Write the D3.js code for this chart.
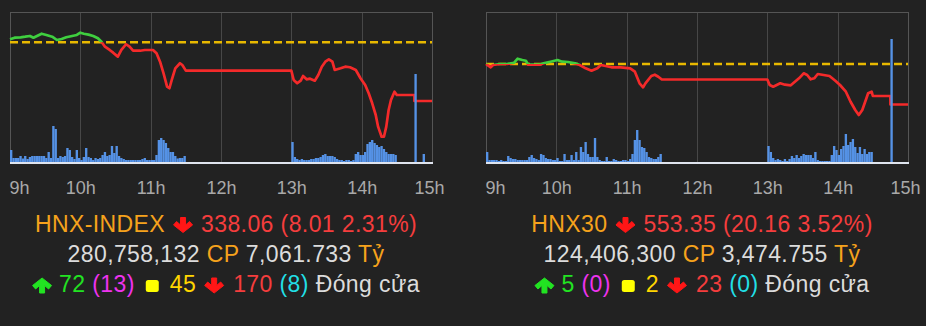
<!DOCTYPE html>
<meta charset="utf-8">
<style>
body { margin: 0; background: #222; }
svg { display: block; font-family: "Liberation Sans", Arial, Helvetica, sans-serif; }
.axis path { display: none; }
.axis line { stroke: #474747; shape-rendering: crispEdges; }
.axis text { fill: #a9a9a9; font-size: 18px; }
.info { font-size: 23px; letter-spacing: 0.4px; }
</style>
<body>
<svg width="926" height="326"></svg>
<script src="https://cdn.jsdelivr.net/npm/d3@7"></script>
<script>

var parseTime = d3.timeParse("%H:%M");
var hourTicks = ["09:00", "10:00", "11:00", "12:00", "13:00", "14:00", "15:00"];

// ---- HNX-INDEX ----
var hnxRef = 346.07;
var hnxPrice = [
  ["09:00",346.48],["09:04",346.70],["09:09",346.75],["09:13",346.83],["09:17",346.93],["09:20",346.70],
  ["09:23",346.93],["09:27",347.24],["09:31",347.07],["09:36",346.83],["09:40",346.38],["09:44",346.52],
  ["09:48",346.75],["09:53",346.93],["09:57",347.07],["10:00",347.38],["10:03",347.24],["10:07",347.11],
  ["10:11",346.93],["10:15",346.62],["10:18",346.15],["10:21",345.47],["10:25",345.02],["10:28",344.65],
  ["10:32",344.11],["10:35",345.02],["10:39",345.80],["10:42",345.47],["10:45",344.92],["10:51",344.92],
  ["10:55",345.02],["11:02",345.02],["11:05",344.57],["11:08",343.42],["11:11",341.84],["11:14",340.01],
  ["11:16",339.80],["11:18",340.93],["11:21",342.52],["11:25",343.21],["11:27",342.97],["11:30",342.20],
  ["13:00",342.20],["13:02",340.93],["13:05",340.48],["13:08",340.83],["13:10",341.47],["13:13",341.02],
  ["13:16",341.11],["13:20",340.83],["13:23",341.61],["13:26",342.74],["13:29",343.42],["13:32",343.75],
  ["13:35",343.42],["13:37",342.29],["13:42",342.52],["13:46",342.74],["13:50",342.66],["13:55",342.29],
  ["13:59",341.16],["14:03",340.25],["14:06",339.11],["14:09",337.75],["14:12",336.15],["14:14",334.56],
  ["14:17",333.19],["14:19",333.19],["14:21",334.56],["14:23",336.84],["14:25",338.20],["14:28",339.33],
  ["14:30",338.88],["14:45",338.88],["14:45",338.06],["15:00",338.06]
];
// volume, 2-minute bins (x10,000 shares)
var hnxVolAM = [12,4,4,4,6,3.5,6,3,5,6, 6,6,6,6,6,4,10,4,36,33, 4,6,5,6,14,12,5,3,12,4,
  2,5,14,5,4,2,4,3,4,7, 10,6,7,16,9,16,6,4,3,2, 2,2,2,2,2,2,3,4,2,2, 2,2,7,22,24,22,19,14,10,10, 6,3.5,4,4,6];
var hnxVolPM = [20,5,3,2,3,2,2,2,3,3, 4,4,5,7,8,6,6,6,5,3, 2,2,1,2,2,1,2,8,10,7,
  7,10,18,20,22,19,17,15,16,13, 10,8,8,8,7];
var hnxVolATC = [["14:45",88],["14:52",8]];

// ---- HNX30 ----
var hnx30Ref = 573.51;
var hnx30Price = [
  ["09:00",573.51],["09:04",571.87],["09:06",573.01],["09:12",573.51],["09:18",573.51],["09:24",574.16],
  ["09:27",576.15],["09:31",575.50],["09:34",575.15],["09:36",573.16],["09:41",573.16],["09:46",573.16],
  ["09:49",573.86],["09:55",574.66],["10:01",575.50],["10:05",574.66],["10:10",574.51],["10:16",573.86],
  ["10:20",573.01],["10:25",571.37],["10:30",570.17],["10:35",571.37],["10:38",573.01],["10:42",572.51],
  ["10:47",571.87],["10:55",571.87],["11:03",571.37],["11:07",569.68],["11:11",563.90],["11:14",561.91],
  ["11:16",563.90],["11:21",567.54],["11:24",568.18],["11:27",567.19],["11:30",565.79],["13:00",565.79],
  ["13:02",563.06],["13:05",562.21],["13:11",563.90],["13:15",563.21],["13:20",562.91],["13:22",563.90],
  ["13:27",566.39],["13:31",568.88],["13:34",568.03],["13:37",565.89],["13:40",566.39],["13:43",568.53],
  ["13:48",568.03],["13:53",567.54],["13:58",565.20],["14:02",563.06],["14:07",559.72],["14:11",554.74],
  ["14:15",550.61],["14:18",548.12],["14:21",550.61],["14:24",555.59],["14:26",558.92],["14:29",559.72],
  ["14:30",557.58],["14:45",557.58],["14:45",553.35],["15:00",553.35]
];
var hnx30VolAM = [10,2,2,2,2,1,2,1,1,6, 4,3,3,2,2,2,2,2,5,7, 4,3,2,8,7,4,3,3,2,2,
  4,1,1,8,2,2,7,2,10,2, 15,10,20,8,5,5,24,5,2,1, 1,5,1,1,3,2,1,1,2,2, 1,3,8,22,32,22,15,14,10,5, 4,3,3,5,8];
var hnx30VolPM = [16,10,4,2,3,2,1,3,1,3, 6,4,7,4,6,8,7,7,7,4, 10,2,1,1,1,1,1,7,16,12,
  7,13,16,28,17,20,23,15,9,15, 8,13,8,10,10];
var hnx30VolATC = [["14:45",123]];

var svg = d3.select("svg");
var W = 422, H = 150;

function bins(arr, start) {
  var t0 = parseTime(start);
  return arr.map(function(v, i) { return {t: d3.timeMinute.offset(t0, i * 2), v: v}; });
}

function drawChart(id, left, o) {
  var g = svg.append("g").attr("transform", "translate(" + left + ",12)");
  var x = d3.scaleTime().domain([parseTime("09:00"), parseTime("15:00")]).range([0, W]);
  var y = d3.scaleLinear().domain(o.yDomain).range([H, 0]);
  var v = d3.scaleLinear().domain([0, 150]).range([0, 150]);

  // grid + hour labels
  var ax = g.append("g").attr("class", "axis")
      .attr("transform", "translate(0," + H + ")")
      .call(d3.axisBottom(x).tickValues(hourTicks.map(parseTime))
        .tickSize(-H).tickPadding(19)
        .tickFormat(function(d) { return d.getHours() + "h"; }));
  ax.selectAll(".tick text").filter(function(d, i) { return i === 0; })
      .attr("text-anchor", "start").attr("x", -1);
  ax.selectAll(".tick text").filter(function(d, i) { return i === hourTicks.length - 1; })
      .attr("x", -3);

  g.append("rect").attr("x", 0.5).attr("y", 0.5).attr("width", W).attr("height", H)
      .attr("fill", "none").attr("stroke", "#555");

  // reference (previous close)
  g.append("line").attr("x1", 0).attr("x2", W).attr("y1", y(o.ref)).attr("y2", y(o.ref))
      .attr("stroke", "#e8b800").attr("stroke-width", 2.5).attr("stroke-dasharray", "8,4");

  // clip above / below reference
  var defs = g.append("defs");
  defs.append("clipPath").attr("id", id + "-up").append("rect")
      .attr("x", -5).attr("y", -5).attr("width", W + 10).attr("height", y(o.ref) + 5);
  defs.append("clipPath").attr("id", id + "-down").append("rect")
      .attr("x", -5).attr("y", y(o.ref)).attr("width", W + 10).attr("height", H - y(o.ref) + 5);

  var line = d3.line()
      .x(function(d) { return x(parseTime(d[0])); })
      .y(function(d) { return y(d[1]); });

  [["up", "#3fcf3f"], ["down", "#f42a2a"]].forEach(function(s) {
    g.append("path").datum(o.price)
        .attr("d", line)
        .attr("clip-path", "url(#" + id + "-" + s[0] + ")")
        .attr("fill", "none").attr("stroke", s[1])
        .attr("stroke-width", 2.7).attr("stroke-linejoin", "round");
  });

  // volume bars
  var vol = bins(o.volAM, "09:00").concat(bins(o.volPM, "13:00"))
      .concat(o.volATC.map(function(d) { return {t: parseTime(d[0]), v: d[1]}; }));
  var bw = x(parseTime("09:02")) - x(parseTime("09:00"));
  g.selectAll(".bar").data(vol).enter().append("rect")
      .attr("class", "bar")
      .attr("x", function(d) { return x(d.t); })
      .attr("width", bw)
      .attr("y", function(d) { return H - v(d.v); })
      .attr("height", function(d) { return v(d.v); })
      .attr("fill", "#5592e6");

  g.append("line").attr("x1", 0).attr("x2", W + 1).attr("y1", H + 1).attr("y2", H + 1)
      .attr("stroke", "#dfe4ee").attr("stroke-width", 2);
}

// arrow / square icons, 20x16 box, bottom at baseline+1.5
function icon(g, type, x0, base, color) {
  var top = base - 14.5;
  if (type === "square") {
    g.append("rect").attr("x", x0).attr("y", base - 12).attr("width", 13).attr("height", 12)
        .attr("rx", 2.5).attr("fill", color);
    return 13;
  }
  var pts = [[7.5,0.5],[12.5,0.5],[12.5,8],[16.5,4.5],[19.5,8],[10,15.5],[0.5,8],[3.5,4.5],[7.5,8]];
  if (type === "up") pts = pts.map(function(p) { return [p[0], 16 - p[1]]; });
  g.append("path")
      .attr("d", "M" + pts.map(function(p) { return (x0 + p[0]) + "," + (top + p[1]); }).join("L") + "Z")
      .attr("fill", color).attr("stroke", color).attr("stroke-width", 1).attr("stroke-linejoin", "round");
  return 20;
}

function infoLine(cx, base, items) {
  var g = svg.append("g");
  var pos = 0;
  items.forEach(function(it) {
    if (it.gap) { pos += it.gap; return; }
    if (it.icon) { pos += icon(g, it.icon, pos, base, it.color); return; }
    var t = g.append("text").attr("class", "info").attr("x", pos).attr("y", base);
    it.runs.forEach(function(r) { t.append("tspan").attr("fill", r[1]).text(r[0]); });
    pos += t.node().getComputedTextLength();
  });
  g.attr("transform", "translate(" + (cx - pos / 2) + ",0)");
}

var ORANGE = "#f6a21c", RED = "#f53d3d", ARROW = "#ff1616", GREY = "#dcdcdc",
    GREEN = "#22e322", MAGENTA = "#ee33ee", YELLOW = "#ffd500", CYAN = "#22dfe6";

function drawInfo(cx, o) {
  infoLine(cx, 231.5, [
    {runs: [[o.name, ORANGE]]}, {gap: 8}, {icon: "down", color: ARROW}, {gap: 8},
    {runs: [[o.last + " (" + o.change + " " + o.pct + "%)", RED]]}
  ]);
  infoLine(cx, 261.5, [
    {runs: [[o.shares, GREY], [" CP ", ORANGE], [o.value, GREY], [" Tỷ", ORANGE]]}
  ]);
  infoLine(cx, 292, [
    {icon: "up", color: GREEN}, {gap: 7},
    {runs: [[o.up, GREEN], [" (" + o.ceil + ")", MAGENTA]]}, {gap: 11},
    {icon: "square", color: "#ffff00"}, {gap: 11},
    {runs: [[o.flat, YELLOW]]}, {gap: 8}, {icon: "down", color: ARROW}, {gap: 9},
    {runs: [[o.down, RED], [" (" + o.floor + ")", CYAN], [" Đóng cửa", GREY]]}
  ]);
}

drawChart("hnx", 10, {ref: hnxRef, yDomain: [329.74, 350.20], price: hnxPrice,
  volAM: hnxVolAM, volPM: hnxVolPM, volATC: hnxVolATC});
drawChart("hnx30", 486, {ref: hnx30Ref, yDomain: [524.73, 599.40], price: hnx30Price,
  volAM: hnx30VolAM, volPM: hnx30VolPM, volATC: hnx30VolATC});

drawInfo(226, {name: "HNX-INDEX", last: "338.06", change: "8.01", pct: "2.31",
  shares: "280,758,132", value: "7,061.733", up: "72", ceil: "13", flat: "45", down: "170", floor: "8"});
drawInfo(702, {name: "HNX30", last: "553.35", change: "20.16", pct: "3.52",
  shares: "124,406,300", value: "3,474.755", up: "5", ceil: "0", flat: "2", down: "23", floor: "0"});

</script>
</body>
